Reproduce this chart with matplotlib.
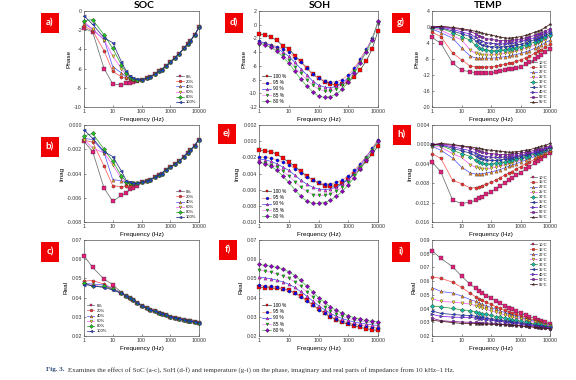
import matplotlib
matplotlib.use("Agg")
import matplotlib.pyplot as plt
from matplotlib.ticker import FormatStrFormatter, FixedLocator, NullLocator
from matplotlib.patches import Rectangle

plt.rcParams['font.family'] = ['Liberation Sans', 'DejaVu Sans']
plt.rcParams['axes.unicode_minus'] = False

# ---------------- data ----------------
freq = [1, 2, 5, 10, 20, 30, 40, 50, 70, 100, 150, 200, 300, 400, 500, 700,
        1000, 1500, 2000, 3000, 4000, 5000, 7000, 10000]
freq_soh = [1, 1.6, 2.5, 4, 6.3, 10, 16, 25, 40, 63, 100, 160, 250, 400, 630,
            1000, 1600, 2500, 4000, 6300, 10000]

soc_labels = ["0%", "20%", "40%", "60%", "80%", "100%"]
soh_labels = ["100 %", "95 %", "90 %", "85 %", "80 %"]
temp_labels = ["10°C", "15°C", "20°C", "25°C", "30°C", "35°C", "40°C", "50°C", "55°C"]

# SOC: low-frequency part (1..70 Hz) differs per series, high-frequency part shared
soc_phase_tail = [-7.15, -7.0, -6.85, -6.55, -6.3, -6.1, -5.75, -5.35, -4.85, -4.45, -3.9, -3.45, -3.1, -2.5, -1.7]
soc_phase_0 = [-1.8, -2.2, -6.0, -7.6, -7.7, -7.55, -7.45, -7.4, -7.3]
soc_phase_20 = [-1.6, -2.05, -4.15, -6.3, -6.85, -7.0, -7.1, -7.15, -7.2]
soc_phase_40 = [-1.3, -1.9, -3.0, -5.8, -6.45, -6.9, -7.0, -7.1, -7.2]
soc_phase_60 = [-1.1, -1.9, -3.0, -4.7, -6.0, -6.7, -7.0, -7.1, -7.15]
soc_phase_80 = [-1.0, -0.9, -2.5, -3.9, -5.6, -6.5, -6.9, -7.05, -7.15]
soc_phase_100 = [-0.5, -1.4, -2.8, -3.3, -5.3, -6.3, -6.8, -7.0, -7.1]

soc_imag_tail = [-0.0047, -0.0046, -0.0045, -0.0043, -0.0041, -0.0040, -0.0037, -0.0035, -0.0032, -0.0030, -0.0026, -0.0023, -0.0021, -0.0017, -0.0012]
soc_imag_0 = [-0.00135, -0.0022, -0.0052, -0.0063, -0.0058, -0.0056, -0.0053, -0.0052, -0.0050]
soc_imag_20 = [-0.00127, -0.0014, -0.0034, -0.0050, -0.0051, -0.0050, -0.0050, -0.0049, -0.0048]
soc_imag_40 = [-0.0011, -0.0012, -0.0023, -0.0045, -0.0046, -0.0048, -0.0048, -0.0048, -0.0048]
soc_imag_60 = [-0.0012, -0.0019, -0.0023, -0.0033, -0.0044, -0.0048, -0.0048, -0.0048, -0.0048]
soc_imag_80 = [-0.0009, -0.0007, -0.0020, -0.0030, -0.0042, -0.0047, -0.0048, -0.0048, -0.0048]
soc_imag_100 = [-0.0004, -0.0011, -0.0022, -0.0026, -0.0038, -0.0046, -0.0047, -0.0048, -0.0048]

soc_real_tail = [0.0358, 0.0346, 0.0338, 0.0328, 0.0321, 0.0316, 0.0309, 0.0301, 0.0295, 0.0290, 0.0284, 0.0280, 0.0277, 0.0274, 0.0270]
soc_real_0 = [0.0618, 0.0557, 0.0496, 0.0468, 0.0426, 0.0410, 0.0398, 0.0388, 0.0373]
soc_real_20 = [0.0486, 0.0489, 0.0470, 0.0448, 0.0424, 0.0409, 0.0398, 0.0388, 0.0373]
soc_real_40 = [0.0475, 0.0470, 0.0466, 0.0446, 0.0424, 0.0409, 0.0398, 0.0388, 0.0373]
soc_real_60 = [0.0470, 0.0465, 0.0455, 0.0445, 0.0423, 0.0408, 0.0397, 0.0387, 0.0372]
soc_real_80 = [0.0477, 0.0458, 0.0460, 0.0443, 0.0423, 0.0408, 0.0397, 0.0387, 0.0372]
soc_real_100 = [0.0468, 0.0462, 0.0452, 0.0440, 0.0422, 0.0407, 0.0396, 0.0386, 0.0372]

# SOH
soh_phase_100 = [-1.3, -1.5, -1.8, -2.3, -3.1, -3.5, -4.5, -5.3, -6.3, -7.2, -7.8, -8.3, -8.6, -8.8, -8.7, -8.3, -7.6, -6.6, -5.3, -3.6, -0.9]
soh_phase_95 = [-2.4, -2.7, -2.9, -3.2, -3.6, -4.0, -4.8, -5.5, -6.3, -7.2, -7.8, -8.2, -8.4, -8.3, -8.0, -7.3, -6.3, -5.0, -3.6, -2.0, 0.4]
soh_phase_90 = [-2.5, -2.7, -3.0, -3.4, -4.0, -4.6, -5.5, -6.4, -7.3, -8.2, -8.8, -9.1, -9.2, -9.0, -8.5, -7.7, -6.6, -5.3, -3.8, -2.1, 0.3]
soh_phase_85 = [-2.9, -3.0, -3.2, -3.7, -4.4, -5.2, -6.2, -7.1, -8.0, -8.8, -9.4, -9.7, -9.7, -9.4, -8.8, -7.9, -6.8, -5.4, -3.9, -2.2, 0.2]
soh_phase_80 = [-2.7, -2.9, -3.3, -3.9, -4.7, -5.6, -6.8, -7.9, -8.9, -9.8, -10.4, -10.6, -10.5, -10.1, -9.4, -8.4, -7.1, -5.6, -4.0, -2.3, 0.5]

soh_imag_100 = [-0.0011, -0.0012, -0.0013, -0.0016, -0.0021, -0.0026, -0.0031, -0.0037, -0.0043, -0.0048, -0.0052, -0.0055, -0.0056, -0.0055, -0.0052, -0.0047, -0.0041, -0.0034, -0.0025, -0.0016, -0.0006]
soh_imag_95 = [-0.0019, -0.0020, -0.0021, -0.0023, -0.0026, -0.0029, -0.0034, -0.0039, -0.0044, -0.0048, -0.0051, -0.0053, -0.0053, -0.0051, -0.0048, -0.0043, -0.0036, -0.0028, -0.0019, -0.0009, 0.0002]
soh_imag_90 = [-0.0022, -0.0023, -0.0025, -0.0028, -0.0032, -0.0036, -0.0042, -0.0048, -0.0053, -0.0057, -0.0059, -0.0060, -0.0059, -0.0057, -0.0053, -0.0047, -0.0039, -0.0030, -0.0020, -0.0010, 0.0000]
soh_imag_85 = [-0.0027, -0.0027, -0.0029, -0.0032, -0.0037, -0.0043, -0.0050, -0.0057, -0.0062, -0.0066, -0.0067, -0.0067, -0.0065, -0.0062, -0.0057, -0.0050, -0.0042, -0.0032, -0.0021, -0.0011, -0.0001]
soh_imag_80 = [-0.0026, -0.0028, -0.0031, -0.0036, -0.0043, -0.0051, -0.0060, -0.0068, -0.0074, -0.0077, -0.0077, -0.0076, -0.0073, -0.0068, -0.0062, -0.0054, -0.0045, -0.0034, -0.0023, -0.0012, 0.0000]

soh_real_100 = [0.0455, 0.0452, 0.0450, 0.0448, 0.0446, 0.0438, 0.0425, 0.0407, 0.0386, 0.0363, 0.0340, 0.0318, 0.0300, 0.0285, 0.0272, 0.0261, 0.0252, 0.0245, 0.0238, 0.0233, 0.0229]
soh_real_95 = [0.0465, 0.0462, 0.0458, 0.0453, 0.0446, 0.0436, 0.0422, 0.0404, 0.0383, 0.0360, 0.0338, 0.0319, 0.0302, 0.0289, 0.0278, 0.0269, 0.0262, 0.0256, 0.0251, 0.0247, 0.0244]
soh_real_90 = [0.0507, 0.0503, 0.0498, 0.0491, 0.0482, 0.0470, 0.0453, 0.0432, 0.0408, 0.0383, 0.0358, 0.0337, 0.0318, 0.0303, 0.0291, 0.0281, 0.0273, 0.0267, 0.0262, 0.0258, 0.0255]
soh_real_85 = [0.0544, 0.0538, 0.0532, 0.0524, 0.0514, 0.0500, 0.0482, 0.0458, 0.0430, 0.0402, 0.0375, 0.0352, 0.0332, 0.0316, 0.0303, 0.0292, 0.0284, 0.0277, 0.0272, 0.0268, 0.0265]
soh_real_80 = [0.0573, 0.0568, 0.0563, 0.0557, 0.0548, 0.0535, 0.0515, 0.0490, 0.0460, 0.0430, 0.0400, 0.0375, 0.0352, 0.0333, 0.0318, 0.0305, 0.0295, 0.0287, 0.0281, 0.0277, 0.0274]

# TEMP
temp_phase_10 = [-2.6, -4.1, -9.0, -10.8, -11.2, -11.4, -11.5, -11.6, -11.6, -11.5, -11.3, -11.1, -10.8, -10.5, -10.6, -10.3, -9.9, -9.3, -8.8, -8.0, -7.4, -6.9, -6.2, -5.4]
temp_phase_15 = [-1.3, -2.4, -6.5, -8.2, -9.8, -9.9, -10.0, -10.0, -10.0, -9.9, -9.8, -9.6, -9.3, -9.1, -8.9, -8.6, -8.2, -7.7, -7.3, -6.6, -6.1, -5.7, -5.0, -4.3]
temp_phase_20 = [-0.5, -1.4, -2.8, -5.2, -7.3, -7.7, -7.8, -7.8, -7.8, -7.8, -7.7, -7.6, -7.4, -7.3, -7.1, -6.9, -6.6, -6.2, -5.9, -5.3, -4.9, -4.5, -3.9, -3.3]
temp_phase_25 = [-0.3, -0.8, -2.2, -3.2, -5.8, -6.6, -6.8, -6.9, -7.0, -7.0, -6.9, -6.8, -6.6, -6.4, -6.3, -6.0, -5.7, -5.3, -5.0, -4.5, -4.1, -3.7, -3.2, -2.5]
temp_phase_30 = [-0.2, -0.3, -1.4, -2.4, -3.3, -4.6, -5.3, -5.6, -5.8, -5.9, -5.9, -5.8, -5.7, -5.6, -5.4, -5.2, -4.9, -4.5, -4.2, -3.8, -3.4, -3.1, -2.6, -2.0]
temp_phase_35 = [-0.1, -0.2, -1.0, -1.7, -2.4, -3.4, -4.1, -4.5, -4.8, -4.9, -5.0, -5.0, -4.9, -4.8, -4.7, -4.5, -4.3, -3.9, -3.6, -3.2, -2.9, -2.6, -2.1, -1.5]
temp_phase_40 = [0.0, 0.0, -0.6, -1.2, -1.8, -2.6, -3.2, -3.6, -3.9, -4.1, -4.2, -4.2, -4.2, -4.1, -4.0, -3.9, -3.6, -3.3, -3.1, -2.7, -2.4, -2.1, -1.6, -1.0]
temp_phase_50 = [0.0, 0.1, -0.3, -0.6, -1.1, -1.7, -2.2, -2.5, -2.9, -3.1, -3.3, -3.4, -3.4, -3.4, -3.3, -3.2, -3.0, -2.7, -2.5, -2.1, -1.8, -1.5, -1.0, -0.4]
temp_phase_55 = [-0.1, 0.2, -0.1, -0.4, -0.8, -1.1, -1.3, -1.5, -1.8, -2.0, -2.3, -2.5, -2.7, -2.8, -2.7, -2.6, -2.4, -2.1, -1.8, -1.3, -1.0, -0.7, -0.1, 0.7]

temp_imag_10 = [-0.0036, -0.0057, -0.0115, -0.0122, -0.0119, -0.0115, -0.0111, -0.0108, -0.0103, -0.0098, -0.0091, -0.0086, -0.0079, -0.0074, -0.0070, -0.0064, -0.0058, -0.0051, -0.0046, -0.0039, -0.0034, -0.0030, -0.0024, -0.0017]
temp_imag_15 = [-0.0019, -0.0029, -0.0074, -0.0081, -0.0090, -0.0089, -0.0087, -0.0085, -0.0082, -0.0078, -0.0073, -0.0069, -0.0063, -0.0059, -0.0056, -0.0051, -0.0046, -0.0040, -0.0036, -0.0031, -0.0027, -0.0024, -0.0019, -0.0014]
temp_imag_20 = [-0.0004, -0.0012, -0.0028, -0.0047, -0.0059, -0.0061, -0.0061, -0.0060, -0.0059, -0.0057, -0.0054, -0.0052, -0.0048, -0.0045, -0.0043, -0.0040, -0.0036, -0.0032, -0.0029, -0.0025, -0.0022, -0.0020, -0.0016, -0.0012]
temp_imag_25 = [-0.0002, -0.0006, -0.0019, -0.0027, -0.0042, -0.0047, -0.0049, -0.0050, -0.0050, -0.0049, -0.0047, -0.0045, -0.0042, -0.0040, -0.0038, -0.0035, -0.0032, -0.0028, -0.0026, -0.0022, -0.0019, -0.0017, -0.0014, -0.0010]
temp_imag_30 = [-0.0001, -0.0002, -0.0012, -0.0019, -0.0025, -0.0033, -0.0037, -0.0039, -0.0040, -0.0040, -0.0039, -0.0038, -0.0036, -0.0034, -0.0033, -0.0030, -0.0028, -0.0025, -0.0023, -0.0020, -0.0017, -0.0015, -0.0012, -0.0008]
temp_imag_35 = [0.0000, -0.0001, -0.0008, -0.0013, -0.0018, -0.0024, -0.0028, -0.0030, -0.0032, -0.0033, -0.0033, -0.0032, -0.0031, -0.0030, -0.0029, -0.0027, -0.0025, -0.0022, -0.0020, -0.0017, -0.0015, -0.0013, -0.0010, -0.0006]
temp_imag_40 = [0.0000, 0.0000, -0.0005, -0.0009, -0.0013, -0.0018, -0.0021, -0.0023, -0.0025, -0.0026, -0.0027, -0.0027, -0.0026, -0.0026, -0.0025, -0.0024, -0.0022, -0.0020, -0.0018, -0.0015, -0.0013, -0.0011, -0.0009, -0.0005]
temp_imag_50 = [0.0000, 0.0001, -0.0002, -0.0004, -0.0007, -0.0011, -0.0014, -0.0016, -0.0018, -0.0019, -0.0020, -0.0021, -0.0021, -0.0021, -0.0020, -0.0019, -0.0018, -0.0016, -0.0015, -0.0012, -0.0010, -0.0009, -0.0006, -0.0003]
temp_imag_55 = [-0.0001, 0.0002, 0.0000, -0.0003, -0.0005, -0.0007, -0.0008, -0.0009, -0.0011, -0.0012, -0.0013, -0.0014, -0.0015, -0.0016, -0.0016, -0.0015, -0.0014, -0.0012, -0.0011, -0.0008, -0.0006, -0.0004, -0.0002, 0.0002]

temp_real_10 = [0.0822, 0.0766, 0.0705, 0.0637, 0.0576, 0.0548, 0.0530, 0.0515, 0.0495, 0.0475, 0.0452, 0.0438, 0.0418, 0.0405, 0.0395, 0.0381, 0.0367, 0.0352, 0.0342, 0.0328, 0.0318, 0.0311, 0.0300, 0.0288]
temp_real_15 = [0.0632, 0.0620, 0.0593, 0.0555, 0.0510, 0.0487, 0.0472, 0.0461, 0.0446, 0.0431, 0.0413, 0.0402, 0.0386, 0.0376, 0.0368, 0.0357, 0.0346, 0.0334, 0.0326, 0.0314, 0.0306, 0.0300, 0.0291, 0.0282]
temp_real_20 = [0.0553, 0.0525, 0.0513, 0.0492, 0.0465, 0.0452, 0.0441, 0.0432, 0.0420, 0.0408, 0.0394, 0.0384, 0.0371, 0.0362, 0.0355, 0.0346, 0.0336, 0.0325, 0.0318, 0.0307, 0.0300, 0.0295, 0.0287, 0.0279]
temp_real_25 = [0.0473, 0.0452, 0.0447, 0.0441, 0.0432, 0.0422, 0.0412, 0.0404, 0.0394, 0.0383, 0.0372, 0.0364, 0.0353, 0.0346, 0.0340, 0.0332, 0.0324, 0.0315, 0.0309, 0.0300, 0.0294, 0.0289, 0.0283, 0.0276]
temp_real_30 = [0.0420, 0.0412, 0.0401, 0.0391, 0.0385, 0.0377, 0.0370, 0.0364, 0.0357, 0.0350, 0.0342, 0.0337, 0.0329, 0.0324, 0.0320, 0.0314, 0.0308, 0.0301, 0.0296, 0.0289, 0.0284, 0.0280, 0.0275, 0.0268]
temp_real_35 = [0.0383, 0.0365, 0.0357, 0.0352, 0.0350, 0.0345, 0.0340, 0.0336, 0.0331, 0.0326, 0.0320, 0.0316, 0.0311, 0.0307, 0.0304, 0.0299, 0.0295, 0.0289, 0.0285, 0.0280, 0.0276, 0.0273, 0.0268, 0.0263]
temp_real_40 = [0.0358, 0.0343, 0.0338, 0.0336, 0.0335, 0.0331, 0.0327, 0.0324, 0.0319, 0.0315, 0.0310, 0.0307, 0.0302, 0.0299, 0.0296, 0.0292, 0.0288, 0.0283, 0.0280, 0.0275, 0.0271, 0.0269, 0.0265, 0.0260]
temp_real_50 = [0.0330, 0.0312, 0.0306, 0.0302, 0.0300, 0.0299, 0.0297, 0.0296, 0.0294, 0.0292, 0.0289, 0.0287, 0.0284, 0.0282, 0.0280, 0.0278, 0.0275, 0.0271, 0.0269, 0.0265, 0.0262, 0.0260, 0.0257, 0.0253]
temp_real_55 = [0.0315, 0.0307, 0.0298, 0.0292, 0.0291, 0.0290, 0.0289, 0.0288, 0.0287, 0.0286, 0.0284, 0.0283, 0.0281, 0.0279, 0.0278, 0.0276, 0.0273, 0.0270, 0.0268, 0.0264, 0.0261, 0.0259, 0.0256, 0.0252]

# ---------------- styles ----------------
markers = ['s', 'o', '^', 'v', 'D', '<', '>', 'h', '*']
fill_cols = ['#E0207A', '#F03030', '#F08020', '#E8E020', '#20C020', '#2040E0', '#5A3CE0', '#9020C0', '#5A1E1E']
line_cols = ['#606060', '#FF5050', '#5050FF', '#FF50FF', '#20A020', '#202080', '#8000FF', '#800080', '#400000']
temp_fill = ['#E0207A', '#F03030', '#F08020', '#E8E020', '#10B8A0', '#2040E0', '#5A3CE0', '#9020C0', '#5A1E1E']
soh_fill = ['#FF0000', '#0000FF', '#E020E0', '#00C000', '#9000C0']
soh_line = ['#404040', '#FF8080', '#4040FF', '#FF80FF', '#40C040']

W, H = 576, 380
fig = plt.figure(figsize=(W / 100, H / 100), dpi=100)


def box(x0, y0, x1, y1):
    return [x0 / W, 1 - y1 / H, (x1 - x0) / W, (y1 - y0) / H]


def panel(rect, x, series, labels, fills, lines, ylim, yticks, yfmt, ylabel,
          legloc, legfs, xlabel=True):
    ax = fig.add_axes(rect)
    for i, (y, lab) in enumerate(zip(series, labels)):
        ax.plot(x, y, color=lines[i], lw=0.5, marker=markers[i], ms=2.3,
                mfc=fills[i], mec='#303030', mew=0.25, label=lab, clip_on=False,
                zorder=3)
    ax.set_xscale('log')
    ax.set_xlim(1, 10000)
    ax.set_ylim(*ylim)
    ax.xaxis.set_major_locator(FixedLocator([1, 10, 100, 1000, 10000]))
    ax.xaxis.set_minor_locator(NullLocator())
    ax.set_xticklabels(['1', '10', '100', '1000', '10000'])
    ax.set_yticks(yticks)
    ax.yaxis.set_major_formatter(FormatStrFormatter(yfmt))
    ax.tick_params(labelsize=3.8, length=1.5, width=0.4, pad=1.5, colors='#333333',
                   direction='in')
    for s in ax.spines.values():
        s.set_linewidth(0.5)
        s.set_color('#555555')
    ax.set_ylabel(ylabel, fontsize=4.6, labelpad=2)
    if xlabel:
        ax.set_xlabel('Frequency (Hz)', fontsize=4.6, labelpad=2)
    ax.legend(loc=legloc, fontsize=legfs, frameon=False, handlelength=1.8,
              labelspacing=0.25, handletextpad=0.5, borderaxespad=0.3,
              markerscale=0.9)
    return ax


def join(head, tail):
    return head + tail


soc_cols_x = (84, 199)
soh_cols_x = (259, 378)
temp_cols_x = (432, 550)
rows_y = [(11, 107), (125, 222), (240, 336)]

# SOC column
panel(box(soc_cols_x[0], rows_y[0][0], soc_cols_x[1], rows_y[0][1]), freq,
      [join(soc_phase_0, soc_phase_tail), join(soc_phase_20, soc_phase_tail),
       join(soc_phase_40, soc_phase_tail), join(soc_phase_60, soc_phase_tail),
       join(soc_phase_80, soc_phase_tail), join(soc_phase_100, soc_phase_tail)],
      soc_labels, fill_cols[:6], line_cols[:6], (-10, 0), [0, -2, -4, -6, -8, -10],
      '%d', 'Phase', 'lower right', 3.0)
panel(box(soc_cols_x[0], rows_y[1][0], soc_cols_x[1], rows_y[1][1]), freq,
      [join(soc_imag_0, soc_imag_tail), join(soc_imag_20, soc_imag_tail),
       join(soc_imag_40, soc_imag_tail), join(soc_imag_60, soc_imag_tail),
       join(soc_imag_80, soc_imag_tail), join(soc_imag_100, soc_imag_tail)],
      soc_labels, fill_cols[:6], line_cols[:6], (-0.008, 0),
      [0, -0.002, -0.004, -0.006, -0.008], '%.3f', 'Imag', 'lower right', 3.0)
panel(box(soc_cols_x[0], rows_y[2][0], soc_cols_x[1], rows_y[2][1]), freq,
      [join(soc_real_0, soc_real_tail), join(soc_real_20, soc_real_tail),
       join(soc_real_40, soc_real_tail), join(soc_real_60, soc_real_tail),
       join(soc_real_80, soc_real_tail), join(soc_real_100, soc_real_tail)],
      soc_labels, fill_cols[:6], line_cols[:6], (0.02, 0.07),
      [0.02, 0.03, 0.04, 0.05, 0.06, 0.07], '%.2f', 'Real', 'lower left', 3.0)

# SOH column
panel(box(soh_cols_x[0], rows_y[0][0], soh_cols_x[1], rows_y[0][1]), freq_soh,
      [soh_phase_100, soh_phase_95, soh_phase_90, soh_phase_85, soh_phase_80],
      soh_labels, soh_fill, soh_line, (-12, 2), [2, 0, -2, -4, -6, -8, -10, -12],
      '%d', 'Phase', 'lower left', 3.4)
panel(box(soh_cols_x[0], rows_y[1][0], soh_cols_x[1], rows_y[1][1]), freq_soh,
      [soh_imag_100, soh_imag_95, soh_imag_90, soh_imag_85, soh_imag_80],
      soh_labels, soh_fill, soh_line, (-0.010, 0.002),
      [0.002, 0, -0.002, -0.004, -0.006, -0.008, -0.010], '%.3f', 'Imag',
      'lower left', 3.4)
panel(box(soh_cols_x[0], rows_y[2][0], soh_cols_x[1], rows_y[2][1]), freq_soh,
      [soh_real_100, soh_real_95, soh_real_90, soh_real_85, soh_real_80],
      soh_labels, soh_fill, soh_line, (0.02, 0.07),
      [0.02, 0.03, 0.04, 0.05, 0.06, 0.07], '%.2f', 'Real', 'lower left', 3.4)

# TEMP column
panel(box(temp_cols_x[0], rows_y[0][0], temp_cols_x[1], rows_y[0][1]), freq,
      [temp_phase_10, temp_phase_15, temp_phase_20, temp_phase_25, temp_phase_30,
       temp_phase_35, temp_phase_40, temp_phase_50, temp_phase_55],
      temp_labels, temp_fill, line_cols, (-20, 4), [4, 0, -4, -8, -12, -16, -20],
      '%d', 'Phase', 'lower right', 2.8)
panel(box(temp_cols_x[0], rows_y[1][0], temp_cols_x[1], rows_y[1][1]), freq,
      [temp_imag_10, temp_imag_15, temp_imag_20, temp_imag_25, temp_imag_30,
       temp_imag_35, temp_imag_40, temp_imag_50, temp_imag_55],
      temp_labels, temp_fill, line_cols, (-0.016, 0.004),
      [0.004, 0, -0.004, -0.008, -0.012, -0.016], '%.3f', 'Imag', 'lower right', 2.8)
panel(box(temp_cols_x[0], rows_y[2][0], temp_cols_x[1], rows_y[2][1]), freq,
      [temp_real_10, temp_real_15, temp_real_20, temp_real_25, temp_real_30,
       temp_real_35, temp_real_40, temp_real_50, temp_real_55],
      temp_labels, temp_fill, line_cols, (0.02, 0.09),
      [0.02, 0.03, 0.04, 0.05, 0.06, 0.07, 0.08, 0.09], '%.2f', 'Real',
      'upper right', 2.8)

# column titles
for xc, t in [(144, 'SOC'), (320, 'SOH'), (488, 'TEMP')]:
    fig.text(xc / W, 1 - 5 / H, t, ha='center', va='center', fontsize=7.5,
             fontweight='bold', family=['Lato', 'DejaVu Sans'])

# red panel tags
tags = [('a)', 50, 22.5), ('b)', 50, 147), ('c)', 50, 251.5),
        ('d)', 234, 23), ('e)', 227, 134), ('f)', 228, 250),
        ('g)', 401, 22.5), ('h)', 401.5, 135), ('i)', 401, 252)]
for lab, xc, yc in tags:
    fig.patches.append(Rectangle(((xc - 9) / W, 1 - (yc + 10) / H), 18 / W, 20 / H,
                                 transform=fig.transFigure, fc='#F00000', ec='none'))
    fig.text(xc / W, 1 - yc / H, lab, ha='center', va='center', color='white',
             fontsize=7, fontweight='bold', family=['Lato', 'DejaVu Sans'])

# caption
t1 = fig.text(46 / W, 1 - 370 / H, 'Fig. 3.', ha='left', va='center', fontsize=5,
              fontweight='bold', color='#2E4A78', family=['Liberation Serif'])
fig.canvas.draw()
bb = t1.get_window_extent()
fig.text((bb.x1 + 4) / W, 1 - 370 / H,
         'Examines the effect of SoC (a-c), SoH (d-f) and temperature (g-i) on the '
         'phase, imaginary and real parts of impedance from 10 kHz–1 Hz.',
         ha='left', va='center', fontsize=5, color='#333333',
         family=['Liberation Serif'])

fig.savefig('out.png', dpi=100)
